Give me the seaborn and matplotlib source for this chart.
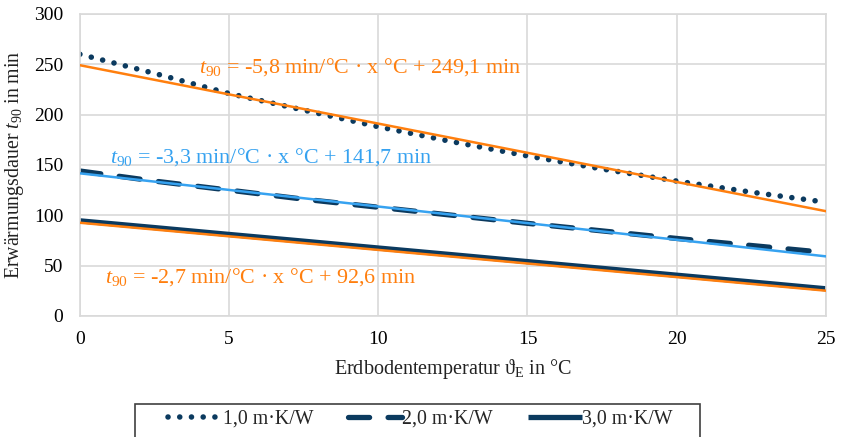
import numpy as np
import pandas as pd
import matplotlib
matplotlib.use("Agg")
import matplotlib.pyplot as plt
from matplotlib.patches import Rectangle
import seaborn as sns

# temperatures and warm-up times
temp = [0, 2.5, 5, 7.5, 10, 12.5, 15, 17.5, 20, 22.5, 25]
t90_1 = [260, 241, 221, 204.5, 188, 173, 159, 146, 134, 123, 113]
t90_2 = [144, 134, 125, 116, 108, 100, 92, 84.5, 77, 70, 63]
t90_3 = [94.5, 87.8, 81, 74.3, 67.5, 60.8, 54, 47.3, 40.5, 33.8, 27]
labels = ["1,0 m·K/W", "2,0 m·K/W", "3,0 m·K/W"]

# trend lines as printed in the chart
slopes = [-5.8, -3.3, -2.7]
intercepts = [249.1, 141.7, 92.6]
trend_text = [
    r"$\mathit{t}_{\mathrm{90}}$ = -5,8 min/°C · x °C + 249,1 min",
    r"$\mathit{t}_{\mathrm{90}}$ = -3,3 min/°C · x °C + 141,7 min",
    r"$\mathit{t}_{\mathrm{90}}$ = -2,7 min/°C · x °C + 92,6 min",
]

navy = "#0B3A5F"
orange = "#FF7F0E"
lightblue = "#36A2F0"
trend_colors = [orange, lightblue, orange]

sns.set_theme(style="whitegrid")
plt.rcParams["font.family"] = ["Liberation Serif", "DejaVu Serif"]
plt.rcParams["mathtext.fontset"] = "custom"
plt.rcParams["mathtext.rm"] = "Liberation Serif"
plt.rcParams["mathtext.it"] = "Liberation Serif:italic"

fig, ax = plt.subplots(figsize=(8.41, 4.37), dpi=100)
fig.subplots_adjust(left=0.095, right=0.982, top=0.968, bottom=0.277)

df = pd.DataFrame({"temp": temp, "s1": t90_1, "s2": t90_2, "s3": t90_3})

sns.lineplot(data=df, x="temp", y="s1", ax=ax, color=navy, lw=4.0,
             linestyle=(0, (0.01, 2.1)), dash_capstyle="round",
             label=labels[0])
sns.lineplot(data=df, x="temp", y="s2", ax=ax, color=navy, lw=3.8,
             linestyle=(0, (4.0, 3.5)), dash_capstyle="round",
             label=labels[1])
sns.lineplot(data=df, x="temp", y="s3", ax=ax, color=navy, lw=3.8,
             solid_capstyle="butt", label=labels[2])

xs = np.array([temp[0], temp[-1]])
for m, b, c in zip(slopes, intercepts, trend_colors):
    ax.plot(xs, m * xs + b, color=c, lw=1.8, zorder=3)

ax.text(4.0, 247, trend_text[0], color=orange, fontsize=15.8, va="center")
ax.text(1.0, 158, trend_text[1], color=lightblue, fontsize=15.8, va="center")
ax.text(0.85, 39, trend_text[2], color=orange, fontsize=15.8, va="center")

ax.set_xlim(0, 25)
ax.set_ylim(0, 300)
ax.set_xticks(range(0, 26, 5))
ax.set_yticks(range(0, 301, 50))
ax.grid(color="#D9D9D9", lw=1.2)
for s in ax.spines.values():
    s.set_color("#D9D9D9")
    s.set_linewidth(1.2)
ax.tick_params(axis="both", length=0, labelsize=14, colors="black")
ax.tick_params(axis="x", pad=11)
ax.tick_params(axis="y", pad=12)
ax.set_xlabel(r"Erdbodentemperatur ϑ$_{\mathrm{E}}$ in °C", fontsize=14.5,
              color="#222222", labelpad=6)
ax.set_ylabel(r"Erwärmungsdauer $\mathit{t}_{\mathrm{90}}$ in min",
              fontsize=14.3, color="#222222", labelpad=6)

handles, lbls = ax.get_legend_handles_labels()
ax.get_legend().remove()
fig.legend(handles, lbls, loc="center", ncol=3,
           bbox_to_anchor=(0.5, 1 - 419 / 437), fontsize=14.3,
           frameon=False, handlelength=2.7, handletextpad=0.05,
           columnspacing=1.75, borderpad=0.2, borderaxespad=0)
fig.patches.append(Rectangle((135 / 841, -0.02), 565 / 841, 0.0955,
                             transform=fig.transFigure, fill=False,
                             edgecolor="#404040", lw=1.2))

fig.savefig("out.png", dpi=100)
